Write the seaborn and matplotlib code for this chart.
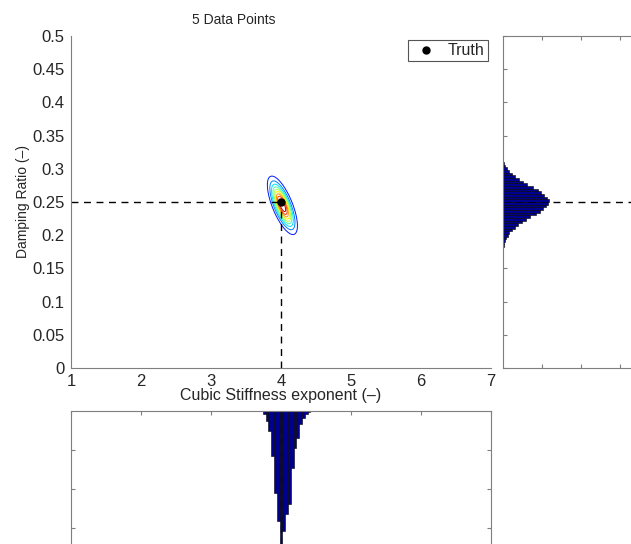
import numpy as np
import pandas as pd
import matplotlib
matplotlib.use("Agg")
import matplotlib.pyplot as plt
import seaborn as sns

# truth point
truth_stiff = 4.0
truth_damp = 0.25

# posterior summary (mean, spread, correlation)
post_mean = [4.02, 0.245]
post_std = [0.1, 0.0205]
post_rho = -0.7

# marginal histogram of stiffness exponent
stiff_centers = [3.76, 3.80, 3.84, 3.88, 3.92, 3.96, 4.00, 4.04, 4.08,
                 4.12, 4.16, 4.20, 4.24, 4.28, 4.32, 4.36, 4.40]
stiff_heights = [0.08, 0.26, 0.51, 1.15, 2.10, 2.82, 3.60, 3.08, 2.64,
                 2.38, 1.46, 0.95, 0.69, 0.33, 0.18, 0.08, 0.03]

# marginal histogram of damping ratio
damp_centers = [0.180, 0.184, 0.188, 0.192, 0.196, 0.200, 0.204, 0.208, 0.212,
                0.216, 0.220, 0.224, 0.228, 0.232, 0.236, 0.240, 0.244, 0.248,
                0.252, 0.256, 0.260, 0.264, 0.268, 0.272, 0.276, 0.280, 0.284,
                0.288, 0.292, 0.296, 0.300, 0.304, 0.308]
damp_heights = [0.01, 0.02, 0.03, 0.05, 0.08, 0.12, 0.16, 0.22, 0.30,
                0.38, 0.48, 0.58, 0.70, 0.84, 0.94, 1.03, 1.10, 1.16,
                1.18, 1.14, 1.06, 0.98, 0.90, 0.76, 0.62, 0.50, 0.40,
                0.31, 0.22, 0.16, 0.10, 0.05, 0.02]

sns.set_style("white")
plt.rcParams['font.family'] = ['Liberation Sans', 'DejaVu Sans']
plt.rcParams['font.size'] = 11

W, H = 631, 544
fig = plt.figure(figsize=(W / 100, H / 100), dpi=100)

def frac(x0, y0, w, h):
    # pixel box (from top-left) to figure fraction
    return [x0 / W, 1 - (y0 + h) / H, w / W, h / H]

ax = fig.add_axes(frac(71, 36, 420, 332))
ax_r = fig.add_axes(frac(503, 36, 140, 332))
ax_b = fig.add_axes(frac(71, 411, 420, 140))

spine_col = '#7f7f7f'
bar_col = '#00008f'

# main panel: contour of the posterior
gx = np.linspace(3.5, 4.6, 300)
gy = np.linspace(0.15, 0.35, 300)
X, Y = np.meshgrid(gx, gy)
zx = (X - post_mean[0]) / post_std[0]
zy = (Y - post_mean[1]) / post_std[1]
Z = np.exp(-(zx**2 - 2 * post_rho * zx * zy + zy**2) / (2 * (1 - post_rho**2)))
levels = np.linspace(0.1, 0.9, 9)
level_cols = plt.get_cmap('jet')(np.linspace(0.15, 0.95, len(levels)))
ax.contour(X, Y, Z, levels=levels, colors=level_cols, linewidths=0.7)

ax.plot([1, truth_stiff], [truth_damp, truth_damp], ls=(0, (5, 4)), color='k', lw=1)
ax.plot([truth_stiff, truth_stiff], [0, truth_damp], ls=(0, (5, 4)), color='k', lw=1)
ax.plot(truth_stiff, truth_damp, 'o', color='k', ms=5, label='Truth', zorder=5)

ax.set_xlim(1, 7)
ax.set_ylim(0, 0.5)
ax.set_xticks(range(1, 8))
ax.set_yticks(np.arange(0, 0.501, 0.05))
ax.set_yticklabels(['0', '0.05', '0.1', '0.15', '0.2', '0.25', '0.3', '0.35', '0.4', '0.45', '0.5'])
ax.set_xlabel('Cubic Stiffness exponent (–)', fontsize=11.5, labelpad=-1)
ax.set_ylabel('Damping Ratio (–)', fontsize=10, labelpad=2)
for s in ['top', 'right']:
    ax.spines[s].set_visible(False)
for s in ['left', 'bottom']:
    ax.spines[s].set_color(spine_col)
    ax.spines[s].set_linewidth(0.8)
ax.tick_params(direction='out', length=3, width=0.8, color=spine_col, labelsize=12, pad=1.5)
leg = ax.legend(loc='upper right', bbox_to_anchor=(0.993, 0.988), borderaxespad=0,
                fancybox=False, edgecolor='#555555', framealpha=1, fontsize=11.5,
                handletextpad=0.5, borderpad=0.2, handlelength=1.8)
leg.get_frame().set_linewidth(0.8)
fig.text(234 / W, 1 - 20 / H, '5 Data Points', ha='center', va='center', fontsize=10)

# right panel: damping ratio marginal
dw = 0.004
d_edges = list(np.arange(len(damp_centers) + 1) * dw + damp_centers[0] - dw / 2)
damp_df = pd.DataFrame({'damp': damp_centers, 'h': damp_heights})
sns.histplot(data=damp_df, y='damp', weights='h', bins=d_edges, ax=ax_r,
             color=bar_col, edgecolor='black', linewidth=0.4, alpha=1)
ax_r.axhline(truth_damp, ls=(0, (5, 4)), color='k', lw=1, zorder=0)
ax_r.set_ylim(0, 0.5)
ax_r.set_xlim(0, 140 / 39)
ax_r.set_xticks([1, 2, 3])
ax_r.set_yticks(np.arange(0, 0.501, 0.05))

# bottom panel: stiffness marginal, hanging down
sw = 0.04
s_edges = list(np.arange(len(stiff_centers) + 1) * sw + stiff_centers[0] - sw / 2)
stiff_df = pd.DataFrame({'stiff': stiff_centers, 'h': stiff_heights})
sns.histplot(data=stiff_df, x='stiff', weights='h', bins=s_edges, ax=ax_b,
             color=bar_col, edgecolor='black', linewidth=0.4, alpha=1)
ax_b.axvline(truth_stiff, ls=(0, (5, 4)), color='k', lw=1, zorder=0)
ax_b.set_xlim(1, 7)
ax_b.set_ylim(140 / 39, 0)
ax_b.set_xticks(range(1, 8))
ax_b.set_yticks([1, 2, 3])

for a in (ax_r, ax_b):
    a.set_xlabel('')
    a.set_ylabel('')
    a.set_xticklabels([])
    a.set_yticklabels([])
    for s in a.spines.values():
        s.set_color(spine_col)
        s.set_linewidth(0.8)
    a.tick_params(direction='in', length=3, width=0.8, color=spine_col,
                  top=True, right=True, bottom=True, left=True)

fig.savefig('out.png', dpi=100)
